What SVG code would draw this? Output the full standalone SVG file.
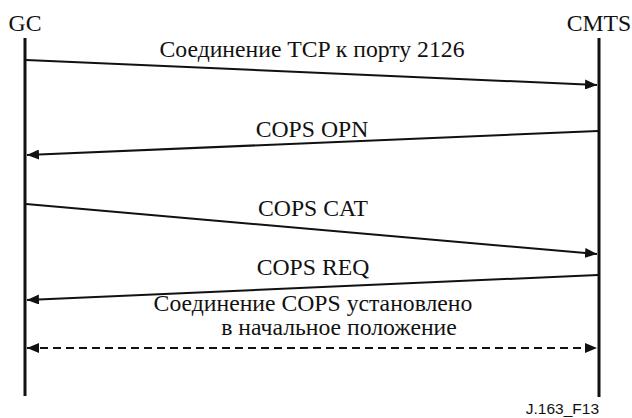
<svg xmlns="http://www.w3.org/2000/svg" width="632" height="418" viewBox="0 0 632 418">
  <style>
    .lbl { font-size: 23.7px; fill: #111; }
    .life { stroke: #111; stroke-width: 3; }
    .msg { stroke: #111; stroke-width: 2; fill: none; }
    .dash { stroke-dasharray: 8 5; }
    .tag { font-size: 15.5px; fill: #111; }
  </style>
  <defs>
    <marker id="head" viewBox="0 0 12 10" refX="12" refY="5" markerWidth="12" markerHeight="10" markerUnits="userSpaceOnUse" orient="auto-start-reverse">
      <path d="M0,0 L12,5 L0,10 Z" fill="#111"/>
    </marker>
  </defs>
  <rect width="632" height="418" fill="#fff"/>

  <g font-family="Liberation Serif, Times New Roman, DejaVu Serif, serif">
    <g id="gc">
      <text class="lbl" x="25" y="31" text-anchor="middle">GC</text>
      <line class="life" x1="25" y1="38" x2="25" y2="396"/>
    </g>
    <g id="cmts">
      <text class="lbl" x="599" y="31" text-anchor="middle">CMTS</text>
      <line class="life" x1="599" y1="38" x2="599" y2="397"/>
    </g>

    <g id="connectors">
      <line class="msg" x1="26" y1="60" x2="597" y2="85" marker-end="url(#head)"/>
      <line class="msg" x1="598" y1="131" x2="27" y2="155" marker-end="url(#head)"/>
      <line class="msg" x1="26" y1="204" x2="597" y2="254" marker-end="url(#head)"/>
      <line class="msg" x1="598" y1="275" x2="27" y2="300" marker-end="url(#head)"/>
      <line class="msg dash" x1="27" y1="348" x2="597" y2="348" marker-start="url(#head)" marker-end="url(#head)"/>
    </g>

    <g id="labels">
      <text class="lbl" x="312" y="57" text-anchor="middle">Соединение TCP к порту 2126</text>
      <text class="lbl" x="312" y="137" text-anchor="middle">COPS OPN</text>
      <text class="lbl" x="313" y="216" text-anchor="middle">COPS CAT</text>
      <text class="lbl" x="313" y="275" text-anchor="middle">COPS REQ</text>
      <text class="lbl" x="313" y="311" text-anchor="middle">Соединение COPS установлено</text>
      <text class="lbl" x="339" y="335" text-anchor="middle">в начальное положение</text>
    </g>
  </g>

  <text class="tag" font-family="Liberation Sans, Arial, sans-serif" x="599" y="414" text-anchor="end">J.163_F13</text>
</svg>
